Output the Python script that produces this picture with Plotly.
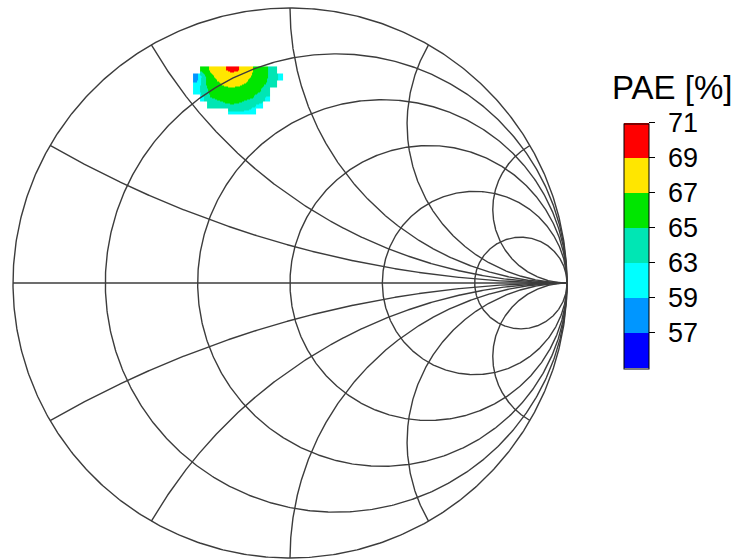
import numpy as np
import plotly.graph_objects as go

# ---- Smith chart grid values ----
resistance_values = [0.0, 0.2, 0.5, 1.0, 2.0, 5.0]
reactance_values = [0.268, 0.577, 1.0, 1.732, 3.732]

# ---- Load-pull PAE measurements on the reflection-coefficient plane ----
gamma_re = [-0.3375, -0.3125, -0.2875, -0.2625, -0.2375, -0.2125, -0.1875,
            -0.1625, -0.1375, -0.1125, -0.0875, -0.0625, -0.0375]
gamma_im = [0.775, 0.75, 0.725, 0.70, 0.675, 0.65, 0.625]  # top row first
N = None
pae = [
    [N,    66.0, 67.2, 67.8, 68.9, 69.4, 69.1,  68.0, 67.1,  66.2, 65.5, 63.3, N],
    [57.8, 64.2, 66.5, 67.4, 68.1, 68.4, 68.2,  67.6, 66.8,  66.0, 65.3, 63.7, 62.2],
    [59.5, 64.3, 66.2, 66.7, 67.3, 67.5, 67.35, 66.9, 66.3,  65.7, 64.9, 63.0, N],
    [61.5, 63.6, 65.6, 66.1, 66.4, 66.5, 66.4,  66.2, 65.8,  65.2, 63.8, N,    N],
    [N,    62.8, 64.9, 65.4, 65.7, 65.8, 65.7,  65.5, 65.05, 63.9, 62.6, N,    N],
    [N,    N,    63.1, 64.0, 64.7, 64.9, 64.8,  64.2, 63.3,  62.5, N,    N,    N],
    [N,    N,    N,    N,    N,    62.7, 62.65, 62.5, 62.15, N,    N,    N,    N],
]

# ---- PAE colour classes ----
pae_levels = [55, 57, 59, 63, 65, 67, 69, 71]
tick_labels = ["57", "59", "63", "65", "67", "69", "71"]
class_colors = ["#0000FF", "#0096FF", "#00FFFF", "#00E6B4",
                "#00E600", "#FFE600", "#FF0000"]

# ---- page geometry (pixels) ----
W, H = 741, 560
cx, cy = 290.0, 283.0      # chart centre
sx, sy = 277.0, 275.0      # pixels per unit reflection coefficient
ml, mr, mt, mb = 7, 168, 2, 0
pw, ph = W - ml - mr, H - mt - mb
x_range = [(ml - cx) / sx, (W - mr - cx) / sx]
y_range = [(cy - (H - mb)) / sy, (cy - mt) / sy]
FONT = "Liberation Sans, Arial, sans-serif"


def paper_x(px):
    return (px - ml) / pw


def paper_y(py):
    return ((H - mb) - py) / ph


# Map PAE onto equally spaced class coordinates for the banded colour bar
z_raw = np.array([[np.nan if v is None else v for v in row] for row in pae[::-1]])
z_cls = np.interp(z_raw, pae_levels, np.arange(len(pae_levels)))
z_cls = [[None if np.isnan(v) else float(v) for v in row] for row in z_cls]

n_cls = len(class_colors)
colorscale = []
for i, c in enumerate(class_colors):
    colorscale.append([i / n_cls, c])
    colorscale.append([(i + 1) / n_cls, c])

fig = go.Figure()

fig.add_trace(go.Heatmap(
    x=gamma_re,
    y=gamma_im[::-1],
    z=z_cls,
    zmin=0, zmax=n_cls,
    zsmooth="best",
    colorscale=colorscale,
    hoverinfo="skip",
    colorbar=dict(
        xref="container", yref="container",
        x=624 / W, xanchor="left",
        y=1 - 246 / H, yanchor="middle",
        lenmode="pixels", len=245,
        thicknessmode="pixels", thickness=25,
        xpad=0, ypad=0,
        outlinecolor="black", outlinewidth=1,
        tickvals=list(range(1, n_cls + 1)),
        ticktext=["\u00a0" + s for s in tick_labels],
        ticks="outside", ticklen=6, tickwidth=1, tickcolor="black",
        tickfont=dict(family=FONT, size=27, color="black"),
    ),
))

# ---- Smith chart grid lines ----
gx, gy = [], []
theta = np.linspace(0, 2 * np.pi, 721)
for r in resistance_values:
    c0, rad = r / (1 + r), 1 / (1 + r)
    gx += list(c0 + rad * np.cos(theta)) + [None]
    gy += list(rad * np.sin(theta)) + [None]

t = np.tan(np.linspace(0, np.pi / 2 * 0.99999, 1500))
for xv in reactance_values:
    for sgn in (1, -1):
        z = t + 1j * sgn * xv
        g = (z - 1) / (z + 1)
        gx += list(g.real) + [1.0, None]
        gy += list(g.imag) + [0.0, None]

gx += [-1.0, 1.0, None]
gy += [0.0, 0.0, None]

fig.add_trace(go.Scatter(
    x=gx, y=gy, mode="lines",
    line=dict(color="#3c3c3c", width=1.4),
    hoverinfo="skip", showlegend=False,
))

fig.add_annotation(
    text="PAE [%]", xref="paper", yref="paper",
    x=paper_x(672), y=paper_y(87), xanchor="center", yanchor="middle",
    showarrow=False,
    font=dict(family=FONT, size=33, color="black"),
)

fig.update_layout(
    width=W, height=H,
    margin=dict(l=ml, r=mr, t=mt, b=mb, autoexpand=False),
    paper_bgcolor="white", plot_bgcolor="white",
    showlegend=False,
    xaxis=dict(range=x_range, visible=False, fixedrange=True),
    yaxis=dict(range=y_range, visible=False, fixedrange=True),
)

fig.write_html("out.html")
